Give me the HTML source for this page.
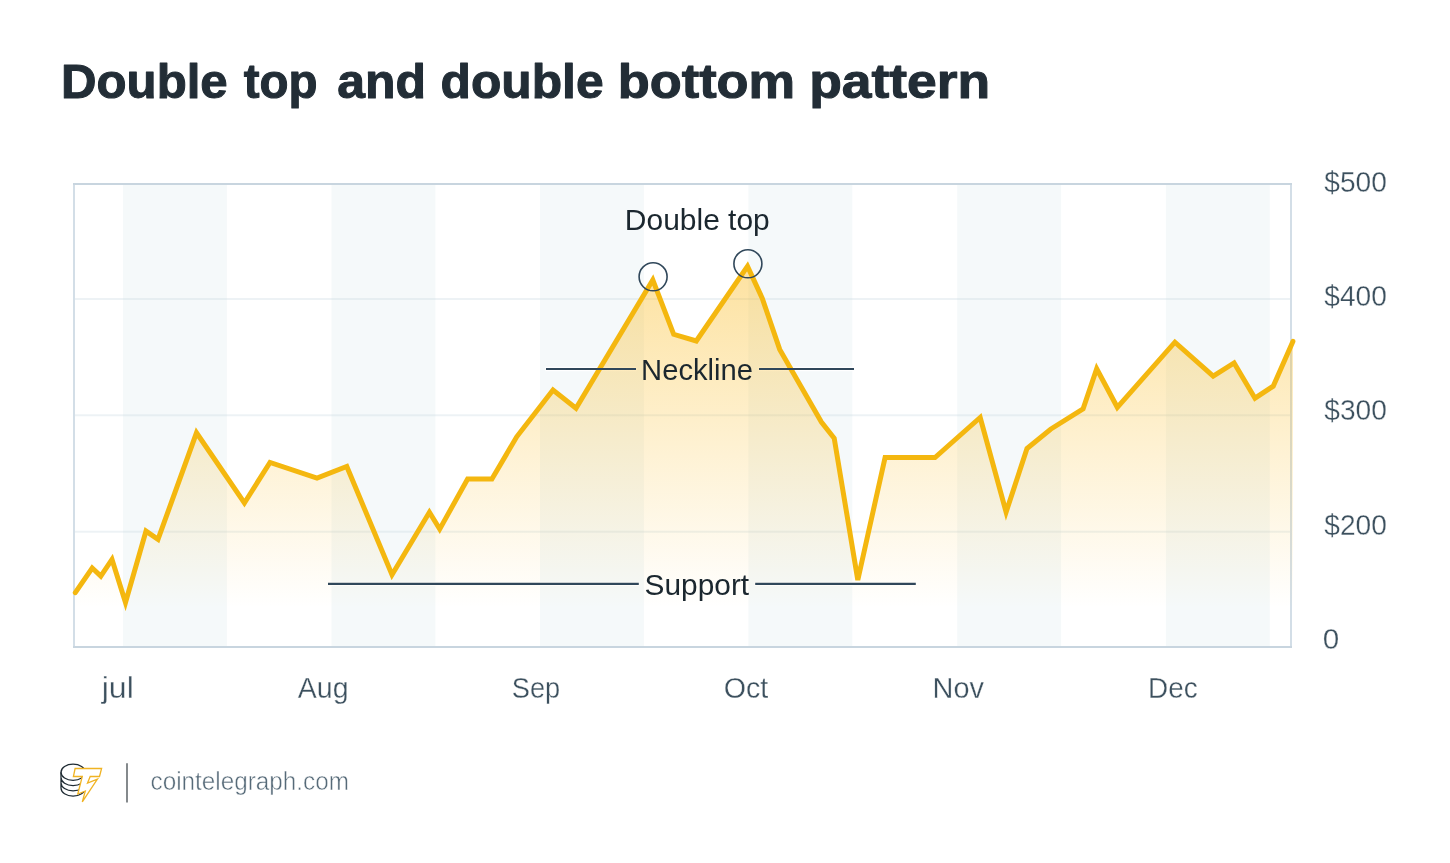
<!DOCTYPE html>
<html lang="en"><head><meta charset="utf-8"><title>Double top and double bottom pattern</title>
<style>
html,body{margin:0;padding:0;background:#fff;}
body{width:1450px;height:863px;overflow:hidden;font-family:"Liberation Sans",sans-serif;}
svg{display:block;}
text{font-family:"Liberation Sans",sans-serif;}
.title text{font-weight:bold;font-size:48px;fill:#222d36;stroke:#222d36;stroke-width:1px;stroke-linejoin:round;}
.ax text{font-size:29px;fill:#3c505e;stroke:#fff;stroke-width:0.3px;}
.ann text{font-size:29px;fill:#1b272f;}
.foot{font-size:25px;fill:#566a78;stroke:#fff;stroke-width:0.5px;}
</style></head><body>
<svg width="1450" height="863" viewBox="0 0 1450 863">
<defs>
<linearGradient id="ga" x1="0" y1="266" x2="0" y2="608" gradientUnits="userSpaceOnUse">
<stop offset="0" stop-color="#fab818" stop-opacity="0.41"/>
<stop offset="1" stop-color="#fab818" stop-opacity="0"/>
</linearGradient>
</defs>
<rect width="1450" height="863" fill="#fff"/>
<g class="title"><text y="98.4"><tspan x="61.03" textLength="166.69" lengthAdjust="spacingAndGlyphs">Double</tspan> <tspan x="243.7" textLength="73.81" lengthAdjust="spacingAndGlyphs">top</tspan> <tspan x="337.36" textLength="88.75" lengthAdjust="spacingAndGlyphs">and</tspan> <tspan x="440.56" textLength="163.06" lengthAdjust="spacingAndGlyphs">double</tspan> <tspan x="617.73" textLength="177.4" lengthAdjust="spacingAndGlyphs">bottom</tspan> <tspan x="809.16" textLength="181.12" lengthAdjust="spacingAndGlyphs">pattern</tspan></text></g>
<g fill="#f5f9fa"><rect x="123" y="184" width="103.9" height="462.5"/><rect x="331.5" y="184" width="103.9" height="462.5"/><rect x="540" y="184" width="103.9" height="462.5"/><rect x="748.4" y="184" width="103.9" height="462.5"/><rect x="957.2" y="184" width="103.9" height="462.5"/><rect x="1165.9" y="184" width="103.9" height="462.5"/></g>
<g stroke="#c4d4dd" stroke-opacity="0.3" stroke-width="2"><line x1="73" x2="1292" y1="299.1" y2="299.1"/><line x1="73" x2="1292" y1="415.3" y2="415.3"/><line x1="73" x2="1292" y1="531.7" y2="531.7"/></g>
<g stroke-width="2" fill="none"><path d="M74,184 V647 M1291,184 V647" stroke="#d3dee7"/><path d="M73,184 H1292 M73,647 H1292" stroke="#c8d5df"/></g>
<path d="M545.4,369 H636.6 M758.4,369 H854.6 M327.4,583.9 H639.4 M754.6,583.9 H916.4" stroke="#fff" stroke-width="4.4" fill="none"/>
<path d="M75.3,647 L75.3,592.7 L92.2,568.0 L100.8,576.1 L112.0,559.4 L125.5,602.5 L146.0,531.1 L158.0,539.4 L196.5,432.8 L244.4,503.0 L270.0,462.4 L317.0,478.0 L346.8,466.5 L392.0,574.7 L429.4,512.3 L439.7,529.1 L467.6,479.0 L491.9,479.0 L516.7,436.8 L553.0,390.0 L576.0,408.2 L652.8,279.9 L673.7,334.3 L696.3,341.0 L747.5,266.3 L762.3,298.4 L779.7,349.4 L821.4,422.0 L834.2,438.2 L857.8,580.0 L885.1,457.5 L935.0,457.5 L980.2,417.5 L1006.1,512.1 L1027.0,448.5 L1050.6,429.2 L1083.1,408.8 L1096.7,368.8 L1117.3,407.3 L1174.9,342.2 L1213.2,376.1 L1234.1,363.0 L1255.0,398.2 L1273.2,386.2 L1292.9,341.4 L1293,341.4 L1293,647 Z" fill="url(#ga)"/>
<polyline points="75.3,592.7 92.2,568.0 100.8,576.1 112.0,559.4 125.5,602.5 146.0,531.1 158.0,539.4 196.5,432.8 244.4,503.0 270.0,462.4 317.0,478.0 346.8,466.5 392.0,574.7 429.4,512.3 439.7,529.1 467.6,479.0 491.9,479.0 516.7,436.8 553.0,390.0 576.0,408.2 652.8,279.9 673.7,334.3 696.3,341.0 747.5,266.3 762.3,298.4 779.7,349.4 821.4,422.0 834.2,438.2 857.8,580.0 885.1,457.5 935.0,457.5 980.2,417.5 1006.1,512.1 1027.0,448.5 1050.6,429.2 1083.1,408.8 1096.7,368.8 1117.3,407.3 1174.9,342.2 1213.2,376.1 1234.1,363.0 1255.0,398.2 1273.2,386.2 1292.9,341.4" fill="none" stroke="#f4b70f" stroke-width="5" stroke-linecap="round" stroke-linejoin="miter" stroke-miterlimit="4"/>
<g stroke="#30475a" stroke-width="2.1" fill="none">
<path d="M546,369 H636 M759,369 H854 M328,583.9 H638.8 M755.2,583.9 H915.8"/>
<circle cx="653.1" cy="276.8" r="14" stroke-width="1.6"/><circle cx="747.9" cy="263.8" r="14" stroke-width="1.6"/>
</g>
<g class="ann">
<text x="624.88" y="229.8" textLength="144.88" lengthAdjust="spacingAndGlyphs">Double top</text>
<text x="641.09" y="379.8" textLength="111.95" lengthAdjust="spacingAndGlyphs">Neckline</text>
<text x="644.57" y="594.8" textLength="104.59" lengthAdjust="spacingAndGlyphs">Support</text>
</g>
<g class="ax"><text x="1324.3" y="192.0" textLength="62.59" lengthAdjust="spacingAndGlyphs">$500</text><text x="1324.3" y="306.2" textLength="62.59" lengthAdjust="spacingAndGlyphs">$400</text><text x="1324.3" y="420.4" textLength="62.59" lengthAdjust="spacingAndGlyphs">$300</text><text x="1324.3" y="534.6" textLength="62.59" lengthAdjust="spacingAndGlyphs">$200</text><text x="1322.78" y="648.9" textLength="16.47" lengthAdjust="spacingAndGlyphs">0</text><text x="101.71" y="697.9" textLength="32.09" lengthAdjust="spacingAndGlyphs">jul</text><text x="297.8" y="697.9" textLength="50.71" lengthAdjust="spacingAndGlyphs">Aug</text><text x="511.86" y="697.9" textLength="48.4" lengthAdjust="spacingAndGlyphs">Sep</text><text x="723.81" y="697.9" textLength="44.54" lengthAdjust="spacingAndGlyphs">Oct</text><text x="932.5" y="697.9" textLength="51.5" lengthAdjust="spacingAndGlyphs">Nov</text><text x="1148.08" y="697.9" textLength="49.6" lengthAdjust="spacingAndGlyphs">Dec</text></g>
<g fill="none" stroke="#1f2b33" stroke-width="1.3">
<ellipse cx="73.05" cy="772.2" rx="12.05" ry="8.1"/>
<path d="M61,772.2 V788.1 M61,777.5 A12.05,8.1 0 0 0 85.1,777.5 M61,782.8 A12.05,8.1 0 0 0 85.1,782.8 M61,788.1 A12.05,8.1 0 0 0 85.1,788.1"/>
</g>
<path d="M75.1,768.5 L101.6,768.5 L99.5,776.5 L90.2,776.5 L87.5,783.1 L97.4,779.2 L82.3,801.8 L85.3,791 L77.8,794 L82.3,776.5 L73.4,776.5 Z" fill="#fff" stroke="#f0b323" stroke-width="1.3" stroke-linejoin="miter"/>
<line x1="127" x2="127" y1="763.2" y2="802.5" stroke="#666c70" stroke-width="1.6"/>
<text class="foot" x="150.58" y="789.6" textLength="198.37" lengthAdjust="spacingAndGlyphs">cointelegraph.com</text>
</svg>
</body></html>
